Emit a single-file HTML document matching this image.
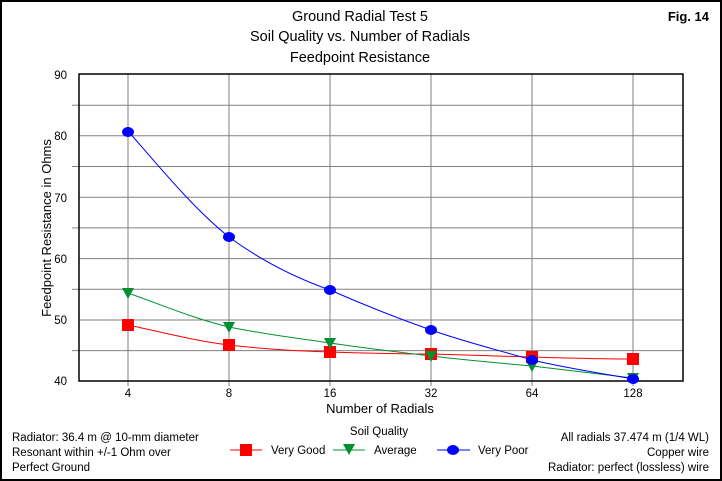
<!DOCTYPE html>
<html><head><style>
body{margin:0;background:#fff}
svg{display:block;font-family:"Liberation Sans",Arial,sans-serif}
</style></head><body>
<svg width="722" height="481" viewBox="0 0 722 481" xmlns="http://www.w3.org/2000/svg">
<rect x="0.5" y="0.5" width="721" height="480" fill="#fff" stroke="#000" stroke-width="1"/>
<rect x="1.5" y="1.5" width="719" height="478" fill="none" stroke="#000" stroke-width="1"/>
<g font-size="14.5" text-anchor="middle" fill="#000">
<text x="360" y="21">Ground Radial Test 5</text>
<text x="360" y="41">Soil Quality vs. Number of Radials</text>
<text x="360" y="62">Feedpoint Resistance</text>
</g>
<text x="709" y="21" font-size="13" font-weight="bold" text-anchor="end">Fig. 14</text>
<g stroke="#808080" stroke-width="1">
<line x1="79" y1="105.2" x2="683" y2="105.2"/><line x1="79" y1="135.8" x2="683" y2="135.8"/>
<line x1="79" y1="166.5" x2="683" y2="166.5"/><line x1="79" y1="197.2" x2="683" y2="197.2"/>
<line x1="79" y1="227.9" x2="683" y2="227.9"/><line x1="79" y1="258.6" x2="683" y2="258.6"/>
<line x1="79" y1="289.3" x2="683" y2="289.3"/><line x1="79" y1="320" x2="683" y2="320"/>
<line x1="79" y1="350.6" x2="683" y2="350.6"/>
<line x1="128" y1="74" x2="128" y2="386"/><line x1="229" y1="74" x2="229" y2="386"/>
<line x1="330" y1="74" x2="330" y2="386"/><line x1="431" y1="74" x2="431" y2="386"/>
<line x1="532" y1="74" x2="532" y2="386"/><line x1="633" y1="74" x2="633" y2="386"/>
</g>
<g stroke="#808080"><line x1="72" y1="105.2" x2="79" y2="105.2"/><line x1="72" y1="166.5" x2="79" y2="166.5"/><line x1="72" y1="227.9" x2="79" y2="227.9"/><line x1="72" y1="289.3" x2="79" y2="289.3"/><line x1="72" y1="350.6" x2="79" y2="350.6"/></g>
<rect x="79" y="74" width="604" height="307" fill="none" stroke="#000" stroke-width="1.5"/>
<g font-size="11.5" text-anchor="end">
<text x="67" y="79">90</text><text x="67" y="140">80</text><text x="67" y="202">70</text>
<text x="67" y="263">60</text><text x="67" y="324">50</text><text x="67" y="385">40</text>
</g>
<g font-size="11.5" text-anchor="middle">
<text x="128" y="397">4</text><text x="229" y="397">8</text><text x="330" y="397">16</text>
<text x="431" y="397">32</text><text x="532" y="397">64</text><text x="633" y="397">128</text>
</g>
<text x="380" y="413" font-size="13" text-anchor="middle">Number of Radials</text>
<text transform="translate(51,228) rotate(-90)" font-size="13" text-anchor="middle">Feedpoint Resistance in Ohms</text>
<path d="M128,325 C162,332 195,341 229,345 C263,349 296,351 330,352 C364,353 397,354 431,354 C465,355 498,356 532,357 C566,358 599,359 633,359" fill="none" stroke="#f00"/>
<path d="M128,293 C162,305 195,319 229,327 C263,334 296,338 330,343 C364,348 397,352 431,356 C465,360 498,363 532,366 C566,370 599,374 633,378" fill="none" stroke="#009030"/>
<path d="M128,131 C162,170 195,210 229,237 C263,262 296,278 330,290 C364,305 397,318 431,330 C465,342 498,350 532,360 C566,368 599,373 633,379" fill="none" stroke="#00f"/>
<g fill="#f00">
<rect x="122" y="319" width="12" height="12"/><rect x="223" y="339" width="12" height="12"/><rect x="324" y="346" width="12" height="12"/>
<rect x="425" y="348" width="12" height="12"/><rect x="526" y="351" width="12" height="12"/><rect x="627" y="353" width="12" height="12"/>
</g>
<g fill="#009030">
<path d="M122,288h12l-6,11z"/><path d="M223,322h12l-6,11z"/><path d="M324,338h12l-6,11z"/>
<path d="M425,351h12l-6,11z"/><path d="M526,361h12l-6,11z"/><path d="M627,373h12l-6,11z"/>
</g>
<g fill="#00f">
<ellipse cx="128" cy="132" rx="6" ry="5"/><ellipse cx="229" cy="237" rx="6" ry="5"/><ellipse cx="330" cy="290" rx="6" ry="5"/>
<ellipse cx="431" cy="330" rx="6" ry="5"/><ellipse cx="532" cy="360" rx="6" ry="5"/><ellipse cx="633" cy="379" rx="6" ry="5"/>
</g>
<g font-size="11.5">
<text x="12" y="441">Radiator: 36.4 m @ 10-mm diameter</text>
<text x="12" y="456">Resonant within +/-1 Ohm over</text>
<text x="12" y="471">Perfect Ground</text>
</g>
<g font-size="11.5" text-anchor="end">
<text x="709" y="441">All radials 37.474 m (1/4 WL)</text>
<text x="709" y="456">Copper wire</text>
<text x="709" y="471">Radiator: perfect (lossless) wire</text>
</g>
<text x="379" y="435" font-size="11.5" text-anchor="middle">Soil Quality</text>
<line x1="230" y1="450" x2="262" y2="450" stroke="#f00"/><rect x="240" y="444" width="12" height="12" fill="#f00"/>
<text x="271" y="454" font-size="11.5">Very Good</text>
<line x1="333" y1="450" x2="365" y2="450" stroke="#009030"/><path d="M343,444h12l-6,11z" fill="#009030"/>
<text x="374" y="454" font-size="11.5">Average</text>
<line x1="437" y1="450" x2="470" y2="450" stroke="#00f"/><ellipse cx="453" cy="450" rx="6" ry="5" fill="#00f"/>
<text x="478" y="454" font-size="11.5">Very Poor</text>
</svg>
</body></html>
